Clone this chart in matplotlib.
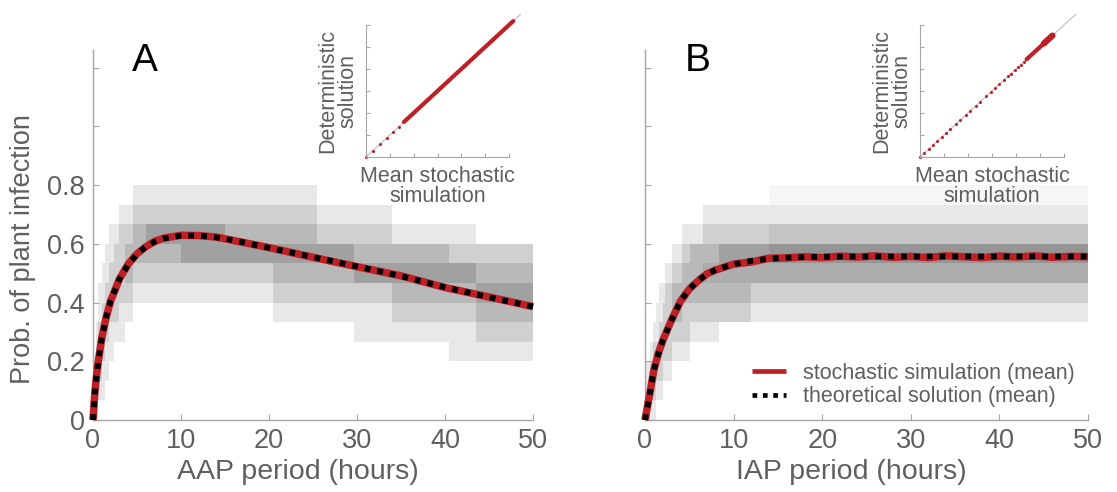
"""Plant infection probability vs AAP / IAP period: stochastic vs theoretical."""

import matplotlib
matplotlib.use("Agg")
import matplotlib.pyplot as plt
import numpy as np
from matplotlib.colors import LinearSegmentedColormap

plt.rcParams["font.family"] = ["Liberation Sans", "DejaVu Sans"]

TEXT = "#5f5f5f"
SPINE = "#a6a6a6"
RED = "#bf2026"

# ---- mean curves -----------------------------------------------------------
A_T = [0, 0.2, 0.4, 0.6, 1.0, 1.5, 2.0, 3.0, 4.0, 5.0, 6.0, 7.0, 8.0,
       10, 12, 14, 16, 20, 25, 30, 35, 40, 45, 50]
A_THEORY = [0, 0.09, 0.15, 0.20, 0.28, 0.35, 0.405, 0.48, 0.53, 0.565, 0.59,
            0.607, 0.618, 0.628, 0.628, 0.622, 0.612, 0.586, 0.555, 0.523,
            0.49, 0.452, 0.418, 0.386]
A_STOCH = [0, 0.09, 0.15, 0.20, 0.28, 0.35, 0.405, 0.48, 0.531, 0.566, 0.59,
           0.608, 0.619, 0.629, 0.628, 0.623, 0.611, 0.587, 0.554, 0.522,
           0.491, 0.451, 0.419, 0.386]

B_T = [0, 0.3, 0.6, 1.0, 1.5, 2.0, 3.0, 4.0, 5.0, 6.0, 7.0, 8.0, 10, 12,
       14, 16, 20, 30, 40, 50]
B_THEORY = [0, 0.05, 0.10, 0.17, 0.225, 0.27, 0.34, 0.405, 0.445, 0.475,
            0.497, 0.512, 0.53, 0.542, 0.549, 0.553, 0.556, 0.557, 0.557, 0.557]
B_ST_T = [0, 0.3, 0.6, 1.0, 1.5, 2.0, 3.0, 4.0, 5.0, 6.0, 7.0, 8.0, 10, 12,
          14, 16, 18, 20, 22, 24, 26, 28, 30, 32, 34, 36, 38, 40, 42, 44, 46,
          48, 50]
B_STOCH = [0, 0.05, 0.10, 0.17, 0.226, 0.27, 0.341, 0.404, 0.446, 0.474,
           0.498, 0.511, 0.531, 0.538, 0.551, 0.552, 0.556, 0.553, 0.558,
           0.555, 0.559, 0.554, 0.557, 0.553, 0.559, 0.556, 0.553, 0.558,
           0.555, 0.559, 0.554, 0.557, 0.556]

# ---- histogram of simulated outcomes (k/15 plants infected) ----------------
N_BANDS = 15
A_COL_EDGES = [0, 0.3, 0.6, 1.0, 1.4, 1.8, 2.4, 3.0, 3.6, 4.6, 6, 10, 15,
               20.4, 25.5, 29.7, 34, 40.5, 43.5, 46, 50]
A_DENSITY = [
    [2, 1, 0, 0, 0, 0, 0, 0, 0, 0, 0, 0, 0, 0, 0, 0, 0, 0, 0, 0],
    [1, 2, 1, 1, 0, 0, 0, 0, 0, 0, 0, 0, 0, 0, 0, 0, 0, 0, 0, 0],
    [1, 2, 2, 1, 1, 0, 0, 0, 0, 0, 0, 0, 0, 0, 0, 0, 0, 0, 0, 0],
    [0, 1, 2, 2, 1, 1, 0, 0, 0, 0, 0, 0, 0, 0, 0, 0, 0, 1, 1, 1],
    [0, 1, 2, 2, 2, 1, 1, 1, 0, 0, 0, 0, 0, 0, 0, 1, 1, 1, 2, 2],
    [0, 0, 1, 2, 2, 2, 2, 1, 1, 0, 0, 0, 0, 1, 1, 1, 2, 2, 3, 3],
    [0, 0, 1, 1, 2, 2, 2, 2, 2, 1, 1, 1, 1, 2, 2, 2, 3, 3, 4, 4],
    [0, 0, 0, 1, 1, 2, 2, 2, 3, 2, 2, 2, 2, 3, 3, 4, 4, 4, 3, 3],
    [0, 0, 0, 0, 1, 1, 2, 2, 3, 3, 3, 4, 4, 4, 4, 3, 3, 2, 2, 2],
    [0, 0, 0, 0, 0, 1, 1, 2, 2, 3, 4, 4, 3, 3, 2, 2, 1, 1, 0, 0],
    [0, 0, 0, 0, 0, 0, 0, 1, 1, 2, 2, 2, 2, 2, 1, 1, 0, 0, 0, 0],
    [0, 0, 0, 0, 0, 0, 0, 0, 0, 1, 1, 1, 1, 1, 0, 0, 0, 0, 0, 0],
    [0, 0, 0, 0, 0, 0, 0, 0, 0, 0, 0, 0, 0, 0, 0, 0, 0, 0, 0, 0],
]
B_COL_EDGES = [0, 0.3, 0.6, 0.9, 1.2, 1.6, 2.0, 2.3, 3.1, 4.2, 5.1, 6.6,
               8.4, 12, 14, 20, 30, 40, 50]
B_DENSITY = [
    [2, 2, 1, 1, 0, 0, 0, 0, 0, 0, 0, 0, 0, 0, 0, 0, 0, 0],
    [1, 2, 2, 2, 1, 1, 0, 0, 0, 0, 0, 0, 0, 0, 0, 0, 0, 0],
    [1, 1, 2, 2, 2, 2, 1, 1, 0, 0, 0, 0, 0, 0, 0, 0, 0, 0],
    [0, 0, 1, 2, 2, 2, 2, 2, 1, 1, 0, 0, 0, 0, 0, 0, 0, 0],
    [0, 0, 0, 1, 1, 2, 2, 2, 2, 2, 1, 1, 0, 0, 0, 0, 0, 0],
    [0, 0, 0, 0, 1, 1, 2, 2, 3, 2, 2, 2, 2, 1, 1, 1, 1, 1],
    [0, 0, 0, 0, 0, 1, 1, 2, 3, 3, 3, 3, 3, 2, 2, 2, 2, 2],
    [0, 0, 0, 0, 0, 0, 0, 1, 2, 3, 3, 3.5, 3.5, 3.5, 3.5, 3.5, 3.5, 3.5],
    [0, 0, 0, 0, 0, 0, 0, 0, 1, 2, 3, 3, 4, 4, 4.5, 4.5, 4.5, 4.5],
    [0, 0, 0, 0, 0, 0, 0, 0, 0, 1, 1, 2, 2, 2, 2.5, 2.5, 2.5, 2.5],
    [0, 0, 0, 0, 0, 0, 0, 0, 0, 0, 0, 1, 1, 1, 1, 1, 1, 1],
    [0, 0, 0, 0, 0, 0, 0, 0, 0, 0, 0, 0, 0, 0, 0.4, 0.4, 0.4, 0.4],
]

# ---- insets (positions along the identity line, 0..1) ----------------------
INSET_A_DOTS = [0.0, 0.047, 0.098, 0.144, 0.191, 0.230]
INSET_A_DENSE = [0.265, 1.03]
INSET_B_DOTS = [0.0, 0.03, 0.06, 0.09, 0.12, 0.15, 0.18, 0.21, 0.25, 0.28,
                0.32, 0.35, 0.39, 0.42, 0.46, 0.49, 0.52, 0.55, 0.58, 0.61,
                0.63, 0.66, 0.68, 0.70, 0.72]
INSET_B_DENSE = [0.74, 0.92]
INSET_B_BLOB = [0.86, 0.92]

GRAYS = LinearSegmentedColormap.from_list("g", ["#ffffff", "#8a8a8a"])

W, H = 1117, 492
fig = plt.figure(figsize=(W / 100, H / 100), dpi=100)


def px_axes(left, right, bottom, top):
    return fig.add_axes([left / W, 1 - bottom / H, (right - left) / W,
                         (bottom - top) / H])


def style_axes(ax):
    for s in ("top", "right"):
        ax.spines[s].set_visible(False)
    for s in ("left", "bottom"):
        ax.spines[s].set_color(SPINE)
        ax.spines[s].set_linewidth(1.0)
    ax.tick_params(direction="in", length=4, color=SPINE, labelcolor=TEXT,
                   labelsize=19.5, pad=6)


def main_panel(ax, col_edges, density, t_theory, theory, t_stoch, stoch,
               xlabel, letter, ylabels):
    dens = np.array(density, dtype=float)
    y_edges = np.arange(dens.shape[0] + 1) / N_BANDS
    ax.pcolormesh(col_edges, y_edges, dens, cmap=GRAYS, vmin=0, vmax=5,
                  shading="flat", zorder=1)
    ax.plot(t_stoch, stoch, color=RED, lw=5.4, solid_capstyle="butt",
            zorder=3, clip_on=False, label="stochastic simulation (mean)")
    ax.plot(t_theory, theory, color="black", lw=4.2, linestyle=(0, (1, 1.2)),
            dash_capstyle="butt", zorder=4, clip_on=False,
            label="theoretical solution (mean)")
    ax.set_xlim(0, 50)
    ax.set_ylim(0, 1.26)
    ax.set_xticks([0, 10, 20, 30, 40, 50])
    ax.set_yticks([0, 0.2, 0.4, 0.6, 0.8, 1.0, 1.2])
    if ylabels:
        ax.set_yticklabels(["0", "0.2", "0.4", "0.6", "0.8", "", ""])
        ax.set_ylabel("Prob. of plant infection", fontsize=19.5, color=TEXT)
        ax.yaxis.set_label_coords(-0.13, 0.462)
    else:
        ax.set_yticklabels([])
    style_axes(ax)
    ax.set_xlabel(xlabel, fontsize=20.5, color=TEXT, labelpad=4)
    ax.xaxis.set_label_coords(0.465, -0.105)
    ax.text(0.118, 0.97, letter, transform=ax.transAxes, fontsize=28,
            color="black", ha="center", va="center")


def inset(ax, dots, dense, blob=None):
    ax.set_xlim(0, 1)
    ax.set_ylim(0, 1)
    ax.plot([0, 1.08], [0, 1.08], color="#c8c8c8", lw=1.0, clip_on=False,
            zorder=1)
    ax.plot(dots, dots, "o", color=RED, ms=2.2, mew=0, clip_on=False,
            zorder=2)
    ax.plot(dense, dense, color=RED, lw=3.0, solid_capstyle="round",
            clip_on=False, zorder=3)
    if blob is not None:
        ax.plot(blob, blob, color=RED, lw=4.5, solid_capstyle="round",
                clip_on=False, zorder=3)
    ax.set_xticks(np.linspace(0, 1, 7))
    ax.set_yticks(np.linspace(0, 1, 7))
    ax.set_xticklabels([])
    ax.set_yticklabels([])
    ax.set_facecolor("none")
    for s in ("top", "right"):
        ax.spines[s].set_visible(False)
    for s in ("left", "bottom"):
        ax.spines[s].set_color(SPINE)
        ax.spines[s].set_linewidth(0.8)
    ax.tick_params(direction="in", length=3, color=SPINE, width=0.8)
    ax.set_xlabel("Mean stochastic\nsimulation", fontsize=15.5, color=TEXT,
                  labelpad=3, linespacing=0.95)
    ax.set_ylabel("Deterministic\nsolution", fontsize=15.5, color=TEXT,
                  labelpad=2, linespacing=0.95)


axA = px_axes(93, 533, 420, 50)
axB = px_axes(645, 1088, 420, 50)
main_panel(axA, A_COL_EDGES, A_DENSITY, A_T, A_THEORY, A_T, A_STOCH,
           "AAP period (hours)", "A", True)
main_panel(axB, B_COL_EDGES, B_DENSITY, B_T, B_THEORY, B_ST_T, B_STOCH,
           "IAP period (hours)", "B", False)

leg = axB.legend(loc="lower right", bbox_to_anchor=(1.0, 0.0), frameon=False,
                 fontsize=15.5, handlelength=1.6, handletextpad=0.8,
                 labelspacing=0.1, borderaxespad=0.2)
for t in leg.get_texts():
    t.set_color(TEXT)
for h in leg.get_lines():
    h.set_linewidth(3.4)

insA = px_axes(366, 509, 157, 25)
insB = px_axes(920, 1064, 157, 25)
inset(insA, INSET_A_DOTS, INSET_A_DENSE)
inset(insB, INSET_B_DOTS, INSET_B_DENSE, INSET_B_BLOB)

fig.savefig("out.png", dpi=100)
